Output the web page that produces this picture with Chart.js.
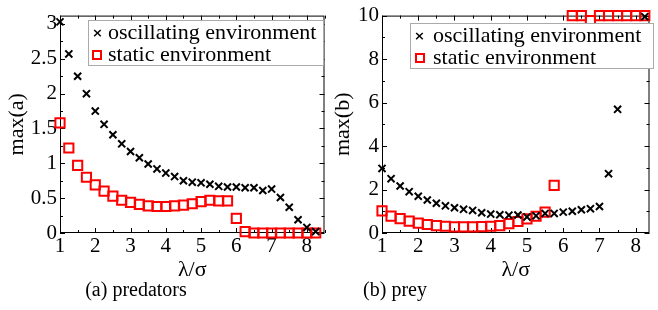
<!DOCTYPE html>
<html lang="en">
<head>
  <meta charset="UTF-8">
  <title>max(a), max(b) vs λ/σ</title>
  <script src="https://cdn.jsdelivr.net/npm/chart.js"></script>
  <style>
    body { margin: 0; background: #fff; font-family: "Liberation Serif", serif; }
    #wrap { position: relative; width: 658px; height: 310px; overflow: hidden; }
    .panel { position: absolute; top: 0; height: 310px; }
    .caption { position: absolute; top: 277px; font-size: 20px; line-height: 24px; text-align: center; }
    .legend { position: absolute; border: 1px solid #aaa; background: #fff; font-size: 22px; }
    .legend .cross { position: absolute; font-family: "DejaVu Sans", sans-serif; font-size: 13px; font-weight: bold; }
    .legend .sq { position: absolute; width: 6px; height: 6px; border: 2px solid #f00; }
    .legend .txt { position: absolute; white-space: nowrap; line-height: 22px; }
  </style>
</head>
<body>
<div id="wrap">
  <div class="panel" style="left:0;width:333px;"><canvas id="predChart"></canvas></div>
  <div class="panel" style="left:329px;width:329px;"><canvas id="preyChart"></canvas></div>

  <div class="legend" style="left:88px;top:20px;width:234px;height:44px;">
    <span class="cross" style="left:3px;top:4px;">×</span><span class="txt" style="left:19px;top:0px;">oscillating environment</span>
    <span class="sq" style="left:3px;top:29px;"></span><span class="txt" style="left:19px;top:22px;">static environment</span>
  </div>
  <div class="legend" style="left:410px;top:23px;width:242px;height:44px;">
    <span class="cross" style="left:3px;top:4px;">×</span><span class="txt" style="left:22px;top:0px;">oscillating environment</span>
    <span class="sq" style="left:4px;top:29px;"></span><span class="txt" style="left:22px;top:22px;">static environment</span>
  </div>

  <div class="caption" style="left:66px;width:140px;">(a) predators</div>
  <div class="caption" style="left:345px;width:100px;">(b) prey</div>
</div>

<script>
  // lambda / sigma values
  const lambda = [1, 1.25, 1.5, 1.75, 2, 2.25, 2.5, 2.75, 3, 3.25, 3.5, 3.75, 4, 4.25, 4.5, 4.75,
                  5, 5.25, 5.5, 5.75, 6, 6.25, 6.5, 6.75, 7, 7.25, 7.5, 7.75, 8, 8.25];

  // (a) predators
  const predOsc = [3.03, 2.57, 2.25, 2.0, 1.75, 1.56, 1.41, 1.28, 1.17, 1.08, 0.99, 0.92, 0.86, 0.81, 0.75, 0.73,
                   0.72, 0.70, 0.67, 0.66, 0.66, 0.65, 0.65, 0.61, 0.63, 0.51, 0.37, 0.19, 0.08, 0.02];
  const predStatic = [1.58, 1.22, 0.97, 0.80, 0.69, 0.60, 0.53, 0.47, 0.44, 0.41, 0.39, 0.38, 0.38, 0.39, 0.40, 0.42,
                      0.45, 0.47, 0.46, 0.46, 0.21, 0.02, 0, 0, 0, 0, 0, 0, 0, 0];

  // (b) prey  (null = off the top of the plot)
  const preyOsc = [2.97, 2.5, 2.16, 1.9, 1.69, 1.52, 1.37, 1.25, 1.16, 1.09, 1.04, 0.93, 0.87, 0.84, 0.82, 0.83,
                   0.74, 0.79, 0.9, 0.9, 0.96, 1.0, 1.07, 1.12, 1.22, 2.73, 5.69, null, null, 9.95];
  const preyStatic = [1.02, 0.78, 0.66, 0.55, 0.45, 0.39, 0.34, 0.31, 0.28, 0.28, 0.28, 0.29, 0.31, 0.34, 0.43, 0.53,
                      0.65, 0.77, 0.96, 2.19, null, 10, 10, 9.77, 10, 10, 10, 10, 10, 10];

  // tick labels
  const xTicks = [1, 2, 3, 4, 5, 6, 7, 8];
  const predYTicks = [0, 0.5, 1, 1.5, 2, 2.5, 3];
  const preyYTicks = [0, 2, 4, 6, 8, 10];

  Chart.defaults.font.family = '"Liberation Serif", serif';
  Chart.defaults.color = '#000';

  const pts = (ys) => lambda.map((x, i) => ({ x: x, y: ys[i] }));

  // box around the plot area plus inward ticks on all four sides
  const framePlugin = {
    id: 'frame',
    beforeDatasetsDraw(chart, args, o) {
      const { ctx, chartArea: a, scales: { x, y } } = chart;
      ctx.save();
      ctx.strokeStyle = '#000';
      ctx.lineWidth = 1;
      ctx.strokeRect(a.left + 0.5, a.top + 0.5, a.right - a.left - 1, a.bottom - a.top - 1);
      ctx.beginPath();
      const steps = (scale, minor, major) => {
        const out = [];
        for (let v = Math.ceil(scale.min / minor) * minor; v <= scale.max + 1e-9; v += minor) {
          const isMajor = Math.abs(v / major - Math.round(v / major)) < 1e-6;
          out.push([v, isMajor ? 5 : 3]);
        }
        return out;
      };
      steps(x, o.xMinor, o.xMajor).forEach(([v, len]) => {
        const px = Math.round(x.getPixelForValue(v)) + 0.5;
        ctx.moveTo(px, a.bottom); ctx.lineTo(px, a.bottom - len);
        ctx.moveTo(px, a.top); ctx.lineTo(px, a.top + len);
      });
      steps(y, o.yMinor, o.yMajor).forEach(([v, len]) => {
        const py = Math.round(y.getPixelForValue(v)) + 0.5;
        ctx.moveTo(a.left, py); ctx.lineTo(a.left + len, py);
        ctx.moveTo(a.right, py); ctx.lineTo(a.right - len, py);
      });
      ctx.stroke();
      ctx.restore();
    }
  };

  function makeChart(id, osc, stat, cfg) {
    return new Chart(document.getElementById(id), {
      type: 'scatter',
      data: {
        datasets: [
          {
            label: 'oscillating environment',
            data: pts(osc),
            pointStyle: 'crossRot',
            pointRadius: 5,
            pointBorderWidth: 2,
            borderColor: '#000',
            backgroundColor: '#000',
            clip: false
          },
          {
            label: 'static environment',
            data: pts(stat),
            pointStyle: 'rect',
            pointRadius: 6.5,
            pointBorderWidth: 2,
            borderColor: '#f00',
            backgroundColor: 'rgba(0,0,0,0)',
            clip: false
          }
        ]
      },
      options: {
        responsive: true,
        maintainAspectRatio: false,
        animation: false,
        layout: { padding: cfg.padding },
        plugins: {
          legend: { display: false },
          tooltip: { enabled: false },
          frame: cfg.frame
        },
        scales: {
          x: {
            type: 'linear',
            min: cfg.xMin,
            max: cfg.xMax,
            afterBuildTicks: (s) => { s.ticks = xTicks.map(v => ({ value: v })); },
            afterFit: (s) => { s.height = 50; },
            grid: { display: false, drawTicks: false },
            border: { display: false },
            ticks: { font: { size: 21 }, padding: 1, maxRotation: 0, autoSkip: false, callback: (v) => String(v) },
            title: { display: true, text: 'λ/σ', font: { size: 22 }, padding: 0 }
          },
          y: {
            type: 'linear',
            min: 0,
            max: cfg.yMax,
            afterBuildTicks: (s) => { s.ticks = cfg.yTicks.map(v => ({ value: v })); },
            afterFit: (s) => { s.width = cfg.yWidth; },
            grid: { display: false, drawTicks: false },
            border: { display: false },
            ticks: { font: { size: 21 }, padding: 3, autoSkip: false, callback: (v) => String(v) },
            title: { display: true, text: cfg.yTitle, font: { size: 22 }, padding: { top: cfg.titlePad, bottom: 0 } }
          }
        }
      },
      plugins: [framePlugin]
    });
  }

  makeChart('predChart', predOsc, predStatic, {
    xMin: 1, xMax: 8.5, yMax: 3.12, yTicks: predYTicks, yTitle: 'max(a)',
    yWidth: 60, titlePad: 4,
    padding: { left: 0, top: 12, right: 2, bottom: 27 },
    frame: { xMajor: 1, xMinor: 0.5, yMajor: 0.5, yMinor: 0.25 }
  });

  makeChart('preyChart', preyOsc, preyStatic, {
    xMin: 1, xMax: 8.38, yMax: 10, yTicks: preyYTicks, yTitle: 'max(b)',
    yWidth: 53, titlePad: 1,
    padding: { left: 0, top: 15, right: 3, bottom: 27 },
    frame: { xMajor: 1, xMinor: 0.5, yMajor: 2, yMinor: 1 }
  });
</script>
</body>
</html>
